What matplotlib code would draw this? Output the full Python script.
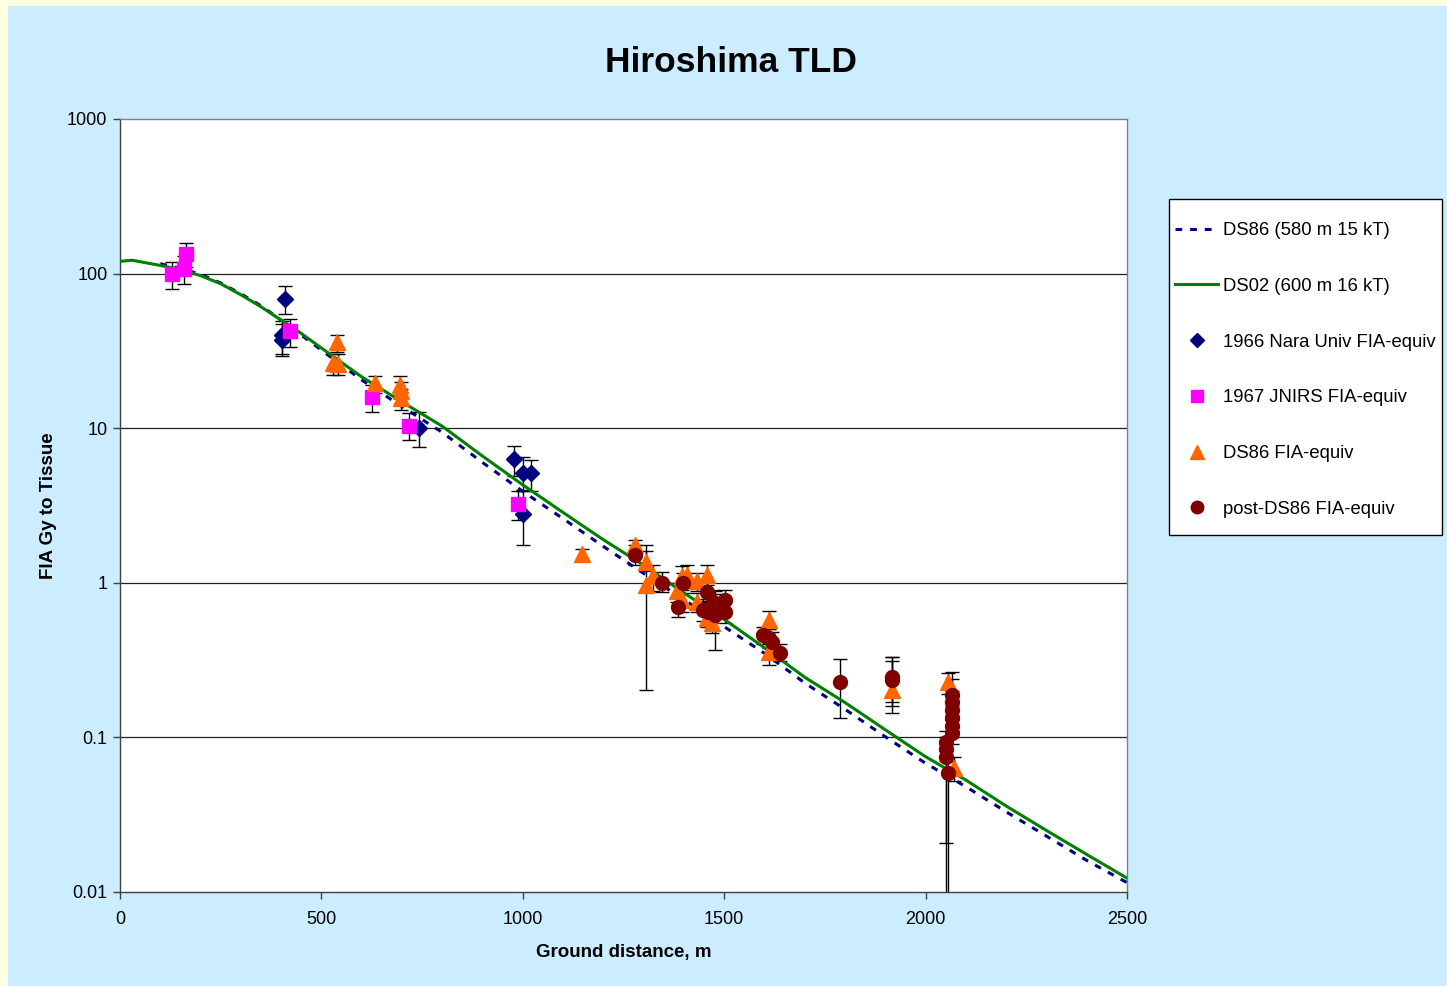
import matplotlib
matplotlib.use("Agg")
import matplotlib.pyplot as plt
from matplotlib.patches import Rectangle
from matplotlib.lines import Line2D

plt.rcParams['font.family'] = ['Liberation Sans', 'DejaVu Sans']

# ---- calculated dose curves (ground distance m, Gy) ----
ds02_dist = [0, 30, 100, 150, 200, 250, 300, 350, 400, 450, 500, 600, 700, 800,
             900, 1000, 1100, 1200, 1300, 1400, 1500, 1600, 1700, 1800, 1900,
             2000, 2100, 2200, 2300, 2400, 2500]
ds02_dose = [120, 122, 113, 106, 97, 86, 73, 61, 50, 41, 33, 21.5, 14.8, 10.3,
             6.6, 4.3, 2.85, 1.9, 1.3, 0.86, 0.58, 0.38, 0.245, 0.168, 0.112,
             0.075, 0.053, 0.036, 0.025, 0.0175, 0.0123]

ds86_dist = [100, 150, 200, 250, 300, 350, 400, 450, 500, 600, 700, 800, 900,
             1000, 1100, 1200, 1300, 1400, 1500, 1600, 1700, 1800, 1900, 2000,
             2100, 2200, 2300, 2400, 2500]
ds86_dose = [116, 108, 99, 87, 74, 62, 50, 40, 32, 20.5, 13.8, 9.4, 6.0,
             3.9, 2.6, 1.72, 1.15, 0.78, 0.52, 0.35, 0.225, 0.152, 0.101, 0.068,
             0.048, 0.033, 0.023, 0.016, 0.0115]

# ---- measurements: distance, value, lower and upper error-bar ends ----
nara_x = [410, 401, 401, 743, 978, 1000, 1020, 1001]
nara_y = [68.6, 40, 37.2, 10.0, 6.3, 5.1, 5.1, 2.79]
nara_lo = [55, 30, 29.3, 7.6, 4.9, 3.9, 3.9, 1.75]
nara_hi = [83, 49, 47, 12.7, 7.7, 6.5, 6.2, 4.0]

jnirs_x = [130, 160, 163, 422, 625, 717, 989]
jnirs_y = [99.4, 107.6, 133, 42.6, 16.0, 10.4, 3.24]
jnirs_lo = [80, 85.7, 110, 33.6, 12.8, 8.4, 2.55]
jnirs_hi = [119, 130, 158, 50.6, 19, 12.5, 3.9]

ds86fia_x = [538, 528, 542, 633, 695, 697, 697, 1146, 1279, 1307, 1307, 1324,
             1394, 1407, 1382, 1394, 1432, 1432, 1458, 1457, 1469, 1610, 1610,
             1916, 2056, 2071]
ds86fia_y = [36.2, 26.3, 26.0, 19.5, 19.0, 17.5, 15.7, 1.53, 1.76, 1.37, 0.97,
             1.10, 1.10, 1.13, 0.88, 0.775, 1.02, 0.755, 1.12, 0.59, 0.547,
             0.574, 0.358, 0.203, 0.229, 0.063]
ds86fia_lo = [31, 22, 22, 17, 16.5, 14.5, 13.2, 1.4, 1.5, 1.2, 0.203, 0.88,
              0.95, 0.97, 0.75, 0.65, 0.88, 0.65, 0.97, 0.52, 0.47, 0.50,
              0.294, 0.144, 0.19, 0.052]
ds86fia_hi = [40, 30, 30, 21.6, 21.6, 20, 18, 1.65, 1.9, 1.6, 1.75, 1.31,
              1.28, 1.3, 1.0, 0.9, 1.15, 0.86, 1.31, 0.67, 0.62, 0.66,
              0.42, 0.33, 0.262, 0.075]

post_x = [1279, 1345, 1397, 1386, 1457, 1461, 1477, 1490, 1502, 1502, 1473,
          1448, 1597, 1610, 1618, 1639, 1787, 1916, 1916,
          2066, 2066, 2066, 2066, 2066, 2066, 2051, 2051, 2051, 2056]
post_y = [1.51, 1.0, 0.99, 0.694, 0.877, 0.65, 0.62, 0.70, 0.775, 0.65, 0.755,
          0.67, 0.459, 0.44, 0.416, 0.35, 0.227, 0.247, 0.235,
          0.188, 0.169, 0.150, 0.133, 0.118, 0.107, 0.093, 0.084, 0.075, 0.059]
post_lo = [1.3, 0.87, 0.86, 0.6, 0.75, 0.55, 0.367, 0.6, 0.65, 0.55, 0.65,
           0.57, 0.40, 0.38, 0.36, 0.31, 0.133, 0.17, 0.16,
           0.16, 0.14, 0.12, 0.11, 0.1, 0.09, 0.0208, 0.005, 0.07, 0.005]
post_hi = [1.75, 1.18, 1.15, 0.8, 1.02, 0.76, 0.88, 0.85, 0.9, 0.76, 0.9,
           0.78, 0.52, 0.5, 0.48, 0.4, 0.32, 0.33, 0.31,
           0.265, 0.24, 0.2, 0.19, 0.15, 0.13, 0.11, 0.1, 0.09, 0.07]

legend_labels = ["DS86 (580 m 15 kT)", "DS02 (600 m 16 kT)",
                 "1966 Nara Univ FIA-equiv", "1967 JNIRS FIA-equiv",
                 "DS86 FIA-equiv", "post-DS86 FIA-equiv"]

x_ticks = [0, 500, 1000, 1500, 2000, 2500]
y_ticks = [0.01, 0.1, 1, 10, 100, 1000]
y_ticklabels = ["0.01", "0.1", "1", "10", "100", "1000"]

W, H = 1447, 986
fig = plt.figure(figsize=(W / 100, H / 100), dpi=100)
fig.patch.set_facecolor("#FFFFE1")
# light-blue chart area with a thin pale-yellow border on the left and top
fig.add_artist(Rectangle((8 / W, 0), 1 - 8 / W, 1 - 6 / H,
                         transform=fig.transFigure, facecolor="#CCECFF",
                         edgecolor="none", zorder=0))

ax = fig.add_axes([120 / W, (H - 892) / H, 1007 / W, 773 / H])
ax.set_facecolor("white")
ax.set_yscale("log")
ax.set_xlim(0, 2500)
ax.set_ylim(0.01, 1000)

for v in y_ticks[1:-1]:
    ax.axhline(v, color="#202020", lw=0.9, zorder=1)

def errs(y, lo, hi):
    return [[a - b for a, b in zip(y, lo)], [c - a for a, c in zip(y, hi)]]

ebkw = dict(fmt="none", ecolor="black", elinewidth=1.0, capsize=5,
            capthick=1.0, zorder=2)
ax.errorbar(nara_x, nara_y, yerr=errs(nara_y, nara_lo, nara_hi), **ebkw)
ax.errorbar(jnirs_x, jnirs_y, yerr=errs(jnirs_y, jnirs_lo, jnirs_hi), **ebkw)
ax.errorbar(ds86fia_x, ds86fia_y, yerr=errs(ds86fia_y, ds86fia_lo, ds86fia_hi), **ebkw)
ax.errorbar(post_x, post_y, yerr=errs(post_y, post_lo, post_hi), **ebkw)

dash = (0, (2.2, 2.6))
ax.plot(ds86_dist, ds86_dose, color="#000080", lw=2.2, ls=dash, zorder=3)
ax.plot(ds02_dist, ds02_dose, color="#008000", lw=2.2, zorder=3)

ax.plot(nara_x, nara_y, ls="none", marker="D", ms=8.5, color="#000080",
        mec="#000080", zorder=4)
ax.plot(jnirs_x, jnirs_y, ls="none", marker="s", ms=10, color="#FF00FF",
        mec="#FF00FF", zorder=4)
ax.plot(ds86fia_x, ds86fia_y, ls="none", marker="^", ms=11, color="#FF6600",
        mec="#FF6600", zorder=4)
ax.plot(post_x, post_y, ls="none", marker="o", ms=10, color="#800000",
        mec="#800000", zorder=4)

ax.set_xticks(x_ticks)
ax.set_xticklabels([str(t) for t in x_ticks])
ax.set_yticks(y_ticks)
ax.set_yticklabels(y_ticklabels)
ax.minorticks_off()
ax.tick_params(axis="both", direction="out", length=5, width=1,
               labelsize=13, color="#404040")
ax.tick_params(axis="x", pad=9)
ax.tick_params(axis="y", pad=4)
for s in ax.spines.values():
    s.set_color("#808080")
    s.set_linewidth(1.0)
ax.spines["left"].set_color("#404040")
ax.spines["bottom"].set_color("#404040")

ax.set_xlabel("Ground distance, m", fontsize=13.5, fontweight="bold")
ax.xaxis.set_label_coords(0.5, -(944 - 892) / 773)
ax.set_ylabel("FIA Gy to Tissue", fontsize=13.5, fontweight="bold")
ax.yaxis.set_label_coords(-(120 - 57) / 1007, 0.5)

fig.text(731 / W, 1 - 63 / H, "Hiroshima TLD", fontsize=25.5, fontweight="bold",
         ha="center", va="center")

# legend box drawn separately so its padding can follow the chart's layout
fig.add_artist(Rectangle((1169 / W, 1 - 535 / H), (1442 - 1169) / W,
                         (535 - 199) / H, transform=fig.transFigure,
                         facecolor="white", edgecolor="black", lw=1.0, zorder=5))
handles = [
    Line2D([], [], color="#000080", lw=2.2, ls=dash),
    Line2D([], [], color="#008000", lw=2.2),
    Line2D([], [], ls="none", marker="D", ms=7.5, color="#000080"),
    Line2D([], [], ls="none", marker="s", ms=8.5, color="#FF00FF"),
    Line2D([], [], ls="none", marker="^", ms=9.5, color="#FF6600"),
    Line2D([], [], ls="none", marker="o", ms=9, color="#800000"),
]
leg = fig.legend(handles, legend_labels, loc="upper left",
                 bbox_to_anchor=(1175 / W, 1 - 222 / H), fontsize=13.3,
                 frameon=False, borderpad=0, labelspacing=2.1,
                 handlelength=2.33, handletextpad=0.27, borderaxespad=0)
leg.set_zorder(6)

fig.savefig("out.png", dpi=100, facecolor=fig.get_facecolor())
